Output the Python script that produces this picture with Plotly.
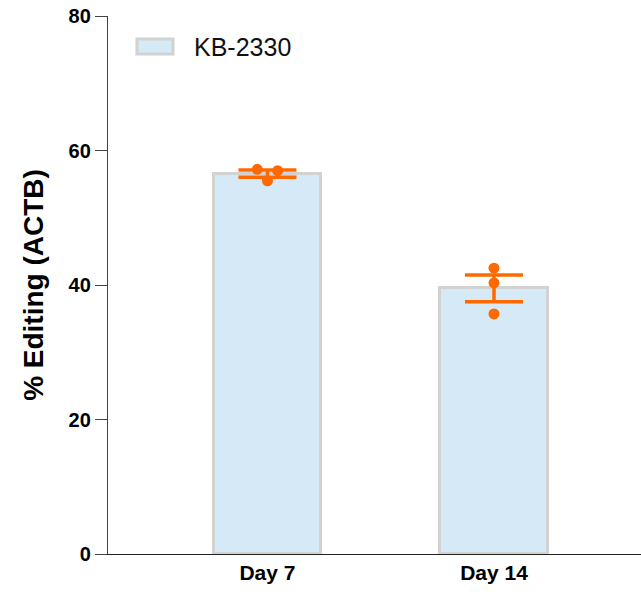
import numpy as np
import plotly.graph_objects as go

# Editing efficiency per replicate
days = ["Day 7", "Day 14"]
day7_reps = [57.2, 57.0, 55.5]
day14_reps = [42.5, 40.3, 35.7]
series_name = "KB-2330"
y_ticks = [0, 20, 40, 60, 80]

replicates = [day7_reps, day14_reps]
means = [float(np.mean(r)) for r in replicates]
sems = [float(np.std(r, ddof=1) / np.sqrt(len(r))) for r in replicates]

# horizontal spread of replicate dots within each bar
jitter = [[-0.045, 0.045, 0.0], [0.0, 0.0, 0.0]]

ORANGE = "#ff6a00"
FONT = "Arial, Liberation Sans, sans-serif"

fig = go.Figure()

xpos = list(range(len(days)))

fig.add_trace(go.Bar(
    x=xpos, y=means, width=0.475,
    marker=dict(color="#d5e9f7", line=dict(color="#d2d2d2", width=3)),
    name=series_name, showlegend=False,
))

# mean +/- SEM
fig.add_trace(go.Scatter(
    x=xpos, y=means, mode="markers",
    marker=dict(size=1, color="rgba(0,0,0,0)"),
    error_y=dict(type="data", array=sems, color=ORANGE, thickness=3.5, width=29),
    showlegend=False, hoverinfo="skip",
))

px, py = [], []
for i, reps in enumerate(replicates):
    for j, v in enumerate(reps):
        px.append(i + jitter[i][j])
        py.append(v)
fig.add_trace(go.Scatter(
    x=px, y=py, mode="markers",
    marker=dict(size=11, color=ORANGE),
    showlegend=False,
))

# legend entry
fig.add_shape(type="rect", xref="paper", yref="paper",
              x0=(137 - 108) / 533, x1=(173 - 108) / 533,
              y0=(554 - 54) / 538, y1=(554 - 39) / 538,
              fillcolor="#d5e9f7", line=dict(color="#d2d2d2", width=3))
fig.add_annotation(text=series_name, xref="paper", yref="paper",
                   x=(192 - 108) / 533, y=(554 - 47) / 538,
                   xanchor="left", yanchor="middle", showarrow=False,
                   font=dict(family=FONT, size=25, color="#111"))

fig.update_layout(
    width=641, height=600,
    margin=dict(l=108, r=0, t=16, b=46),
    plot_bgcolor="white", paper_bgcolor="white",
    bargap=0,
    xaxis=dict(
        range=[-0.704, 1.649],
        tickvals=xpos, ticktext=days,
        showline=True, linecolor="#222", linewidth=1.3,
        ticks="", showgrid=False, zeroline=False,
        tickfont=dict(family=FONT, size=21, color="black", weight="bold"),
    ),
    yaxis=dict(
        range=[0, 80], tickvals=y_ticks,
        showline=True, linecolor="#444", linewidth=1.3,
        ticks="outside", ticklen=12, tickwidth=1.3, tickcolor="#444",
        showgrid=False, zeroline=False,
        tickfont=dict(family=FONT, size=20, color="black", weight="bold"),
        title=dict(text="% Editing (ACTB)", standoff=16,
                   font=dict(family=FONT, size=28, color="black", weight="bold")),
    ),
)

fig.write_html("out.html")
